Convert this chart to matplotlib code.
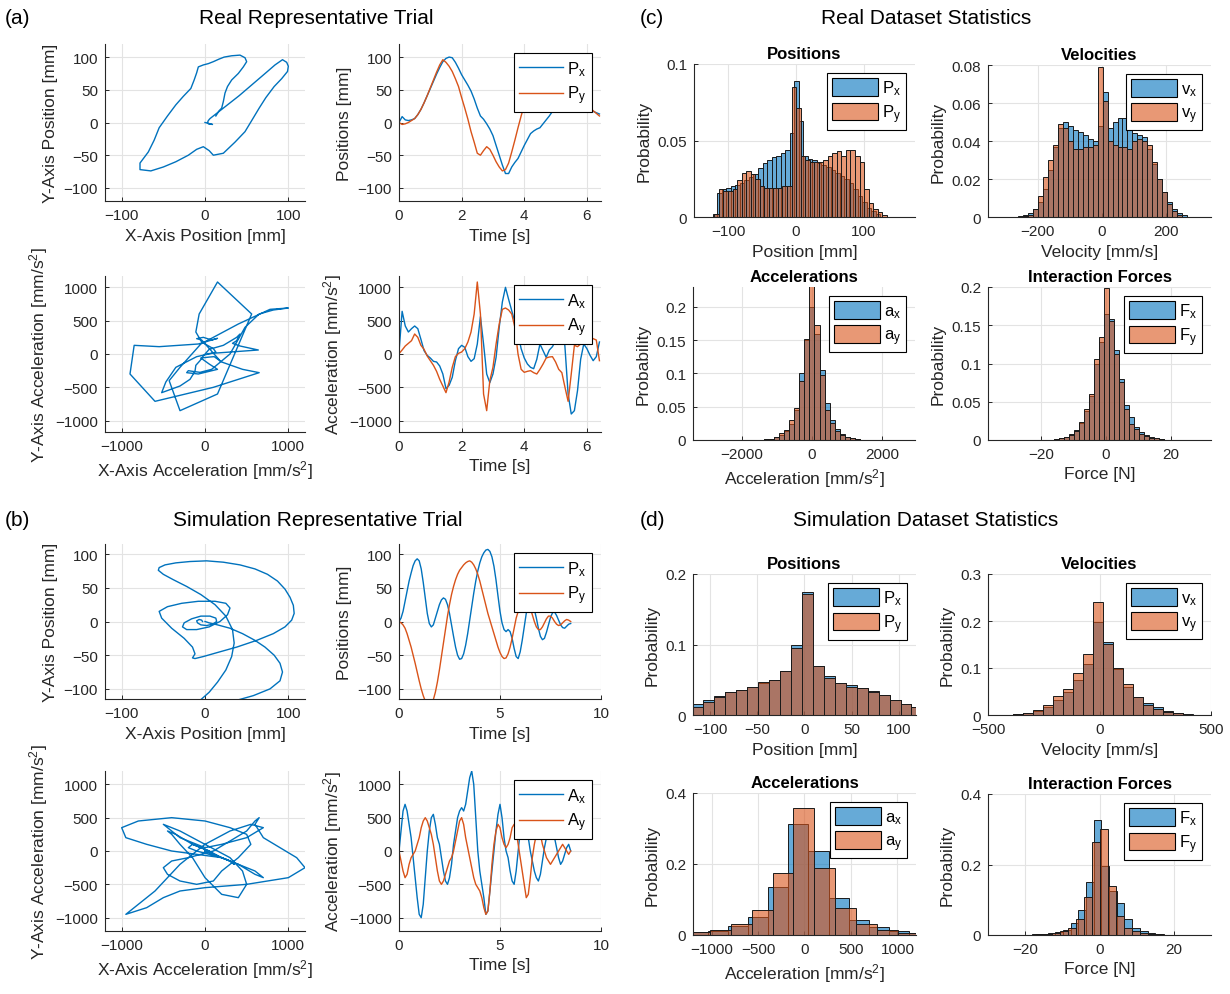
import numpy as np
import matplotlib
matplotlib.use('Agg')
import matplotlib.pyplot as plt
from matplotlib.patches import Patch
from matplotlib.lines import Line2D
from matplotlib.colors import to_rgba
from matplotlib.ticker import FormatStrFormatter

plt.rcParams['font.family'] = ['Liberation Sans', 'DejaVu Sans']
plt.rcParams['mathtext.fontset'] = 'custom'
plt.rcParams['mathtext.rm'] = 'Liberation Sans'
plt.rcParams['mathtext.it'] = 'Liberation Sans:italic'
plt.rcParams['mathtext.bf'] = 'Liberation Sans:bold'

BLUE = '#0072BD'
ORANGE = '#D95319'
TXT = '#262626'

# ---------------- Real representative trial (time step 0.1 s) ----------------
real_dt = 0.1
real_px = [0, 9, 4, 3, 4, 6, 12, 20, 30, 41, 52, 63, 74, 84, 93, 98, 100, 99, 92, 83,
           73, 65, 57, 48, 36, 22, 10, 5, -2, -10, -20, -35, -50, -65, -78, -78, -68, -61, -55, -45,
           -35, -26, -17, -13, -10, -8, -2, 4, 10, 17, 23, 32, 42, 48, 50, 46, 40, 32, 27, 24,
           22, 20, 17, 15, 13]
real_py = [0, -3, -2, 0, 3, 6, 12, 20, 30, 41, 53, 65, 77, 88, 96, 92, 86, 78, 67, 55,
           38, 22, 5, -14, -30, -47, -50, -43, -37, -41, -50, -60, -68, -74, -72, -62, -45, -27, -8, 10,
           27, 40, 52, 65, 76, 85, 88, 90, 93, 97, 100, 102, 103, 99, 93, 85, 75, 65, 55, 45,
           32, 22, 18, 14, 10]
real_ax = [30, 640, 420, 330, 380, 420, 380, 220, 50, -20, -60, -110, -120, -180, -300, -520, -470, -350, -100, 80,
           130, 100, -40, -110, -70, 150, 560, 150, -300, -430, -300, -50, 400, 780, 1000, 820, 650, 480, 300, 80,
           -60, -150, -200, -220, -80, 150, 50, -50, 60, 110, 200, 450, 650, 100, -600, -900, -850, -550, -80, 150,
           80, -20, -100, -40, 180]
real_ay = [5, 60, 120, 160, 200, 300, 250, 130, 70, -30, -100, -170, -260, -380, -480, -580, -420, -200, -40, 10,
           30, 80, 180, 330, 600, 1080, 600, -600, -850, -400, -200, 150, 450, 670, 690, 660, 600, 400, 0, -230,
           -275, -260, -250, -280, -300, -230, -150, -60, -45, -40, -120, -230, -280, -500, -710, -300, 130, 110, 150, 235,
           210, 250, 230, 210, -100]

# ---------------- Simulation representative trial (time step 0.1 s) ----------------
sim_dt = 0.1
sim_px = [0, 5, 15, 30, 45, 60, 72, 83, 90, 93, 90, 78, 58, 35, 12, -3, -8, -5, 5, 15,
          25, 32, 35, 33, 25, 12, -5, -22, -38, -50, -56, -55, -48, -35, -18, 2, 22, 42, 60, 75,
          87, 96, 102, 106, 107, 104, 96, 82, 62, 38, 15, -2, -12, -15, -12, -15, -25, -40, -52, -55,
          -45, -28, -8, 12, 25, 30, 27, 18, 5, -10, -22, -27, -25, -16, -5, 6, 13, 14, 9, 2,
          -5, -9, -10, -7, -4, -3]
sim_py = [0, -2, -5, -10, -18, -28, -38, -50, -62, -75, -88, -100, -110, -118, -122, -124, -122, -116, -105, -90,
          -72, -52, -32, -12, 8, 25, 40, 52, 62, 70, 76, 80, 84, 87, 89, 90, 88, 84, 78, 70,
          60, 48, 36, 24, 12, 2, -8, -18, -28, -38, -46, -52, -55, -54, -48, -38, -25, -10, 5, 15,
          22, 27, 30, 30, 27, 20, 10, 0, -8, -12, -12, -8, -2, 4, 8, 8, 5, 0, -4, -6,
          -5, -2, 1, 3, 2, 0]
sim_ax = [0, 300, 600, 700, 600, 400, 200, -100, -400, -700, -950, -1000, -800, -400, 0, 300, 500, 550, 400, 200,
          100, -100, -300, -450, -500, -400, -200, 100, 300, 500, 600, 650, 600, 700, 900, 1100, 1200, 1000, 500, 0,
          -300, -500, -700, -950, -900, -600, -300, 0, 300, 550, 700, 500, 200, 0, -100, -300, -450, -500, -300, 0,
          300, 450, 500, 400, 200, 0, -150, -300, -400, -450, -350, -150, 50, 200, 300, 350, 300, 200, 50, -100,
          -200, -150, -50, 50, 100, 0]
sim_ay = [0, -150, -300, -400, -350, -200, -100, -50, 0, 100, 200, 350, 450, 500, 450, 350, 250, 100, -100, -300,
          -450, -500, -450, -350, -250, -150, -100, 0, 150, 300, 450, 500, 400, 200, 50, -100, -250, -400, -500, -550,
          -600, -700, -850, -950, -900, -600, -200, 100, 300, 400, 350, 200, 100, 50, 100, 200, 350, 400, 300, 100,
          -100, -300, -500, -700, -650, -400, -100, 100, 250, 300, 250, 100, 0, -100, -150, -200, -150, -100, -50, 0,
          50, 100, 50, 0, -50, 0]

# ---------------- Histograms: (bin start, bin width, heights) ----------------
rp_x_start, rp_x_w = -122.6, 6.67
rp_x = [0.002, 0.016, 0.018, 0.019, 0.020, 0.021, 0.022, 0.024, 0.026, 0.028, 0.032, 0.035, 0.037, 0.039, 0.040,
        0.042, 0.044, 0.055, 0.089, 0.063, 0.040, 0.038, 0.037, 0.035, 0.034, 0.033, 0.031, 0.029, 0.027, 0.025,
        0.022, 0.018, 0.014, 0.010, 0.006, 0.004, 0.002]
rp_y_start, rp_y_w = -120.0, 6.67
rp_y = [0.002, 0.018, 0.017, 0.017, 0.018, 0.024, 0.029, 0.030, 0.028, 0.025, 0.020, 0.019, 0.019, 0.019, 0.019,
        0.020, 0.020, 0.085, 0.071, 0.040, 0.037, 0.036, 0.036, 0.036, 0.037, 0.040, 0.042, 0.043, 0.040, 0.044,
        0.044, 0.040, 0.036, 0.018, 0.009, 0.005, 0.003, 0.001]

rv_start, rv_w = -261.4, 15.5
rv_x = [0.0005, 0.001, 0.002, 0.004, 0.008, 0.015, 0.025, 0.037, 0.047, 0.050, 0.048, 0.046, 0.045, 0.043, 0.041,
        0.040, 0.048, 0.066, 0.047, 0.050, 0.052, 0.052, 0.048, 0.044, 0.043, 0.042, 0.036, 0.028, 0.020, 0.013,
        0.008, 0.004, 0.002, 0.001]
rv_y = [0.0, 0.0005, 0.001, 0.004, 0.011, 0.021, 0.030, 0.038, 0.049, 0.047, 0.040, 0.036, 0.036, 0.037, 0.037,
        0.038, 0.079, 0.061, 0.040, 0.038, 0.037, 0.037, 0.036, 0.040, 0.041, 0.040, 0.038, 0.029, 0.020, 0.013,
        0.007, 0.003, 0.001]

ra_start, ra_w = -1375.0, 145.0
ra_x = [0.001, 0.002, 0.004, 0.008, 0.013, 0.024, 0.045, 0.100, 0.150, 0.200, 0.160, 0.105, 0.055, 0.030, 0.016,
        0.009, 0.005, 0.003, 0.001]
ra_y = [0.001, 0.002, 0.005, 0.010, 0.015, 0.030, 0.048, 0.088, 0.152, 0.232, 0.173, 0.098, 0.045, 0.025, 0.014,
        0.008, 0.005, 0.003, 0.001]

rf_start, rf_w = -16.22, 1.55
rf_x = [0.001, 0.002, 0.004, 0.008, 0.013, 0.022, 0.038, 0.058, 0.100, 0.128, 0.165, 0.158, 0.118, 0.080, 0.046,
        0.030, 0.017, 0.011, 0.006, 0.004, 0.002, 0.001]
rf_y = [0.001, 0.002, 0.004, 0.007, 0.012, 0.023, 0.040, 0.060, 0.106, 0.135, 0.199, 0.156, 0.113, 0.076, 0.040,
        0.021, 0.014, 0.008, 0.005, 0.003, 0.002, 0.001]

sp_start, sp_w = -118.8, 11.6
sp_x = [0.015, 0.021, 0.027, 0.033, 0.035, 0.040, 0.046, 0.050, 0.063, 0.099, 0.174, 0.070, 0.055, 0.046, 0.042,
        0.039, 0.034, 0.029, 0.021, 0.016, 0.011]
sp_y = [0.012, 0.019, 0.025, 0.032, 0.035, 0.040, 0.047, 0.050, 0.063, 0.095, 0.172, 0.070, 0.053, 0.046, 0.040,
        0.038, 0.033, 0.028, 0.021, 0.016, 0.011]

sv_start, sv_w = -431.2, 44.8
sv_x = [0.001, 0.002, 0.005, 0.008, 0.018, 0.032, 0.050, 0.075, 0.108, 0.198, 0.155, 0.097, 0.060, 0.038, 0.025,
        0.016, 0.009, 0.004, 0.002]
sv_y = [0.001, 0.003, 0.005, 0.010, 0.022, 0.040, 0.055, 0.090, 0.130, 0.240, 0.152, 0.100, 0.065, 0.038, 0.022,
        0.012, 0.007, 0.004, 0.001]

sa_x_start, sa_x_w = -1469.0, 216.0
sa_x = [0.004, 0.008, 0.012, 0.025, 0.050, 0.135, 0.313, 0.237, 0.103, 0.043, 0.022, 0.012, 0.007]
sa_y_start, sa_y_w = -1244.0, 225.0
sa_y = [0.008, 0.015, 0.030, 0.070, 0.175, 0.357, 0.190, 0.075, 0.030, 0.015, 0.007]

sf_x_start, sf_x_w = -20.2, 2.07
sf_x = [0.001, 0.002, 0.003, 0.005, 0.008, 0.015, 0.035, 0.070, 0.150, 0.326, 0.197, 0.125, 0.090, 0.045, 0.020,
        0.010, 0.006, 0.003, 0.001]
sf_y_start, sf_y_w = -19.3, 2.16
sf_y = [0.001, 0.002, 0.004, 0.007, 0.012, 0.020, 0.045, 0.108, 0.265, 0.300, 0.140, 0.055, 0.020, 0.012, 0.007,
        0.004, 0.002]

# ---------------- figure ----------------
W, H = 1230, 995
fig = plt.figure(figsize=(W / 100, H / 100), dpi=100)


def add_ax(l, t, r, b):
    return fig.add_axes([l / W, 1 - b / H, (r - l) / W, (b - t) / H])


def style(ax):
    for s in ['top', 'right']:
        ax.spines[s].set_visible(False)
    for s in ['left', 'bottom']:
        ax.spines[s].set_color('#262626')
        ax.spines[s].set_linewidth(0.8)
    ax.grid(True, color='#e3e3e3', linewidth=0.8)
    ax.set_axisbelow(True)
    ax.tick_params(direction='in', length=3, width=0.7, labelsize=11, colors=TXT, pad=5)


def line_legend(ax, labels):
    h = [Line2D([], [], color=BLUE, lw=1.0), Line2D([], [], color=ORANGE, lw=1.0)]
    lg = ax.legend(h, labels, loc='upper right', fontsize=12, frameon=True, fancybox=False,
                   edgecolor='black', framealpha=1, handlelength=2.6, handletextpad=0.25,
                   borderaxespad=0.55, borderpad=0.35, labelspacing=0.35)
    lg.get_frame().set_linewidth(0.8)


def hist_legend(ax, labels):
    h = [Patch(facecolor=to_rgba(BLUE, 0.6), edgecolor='black', lw=0.8),
         Patch(facecolor=to_rgba(ORANGE, 0.6), edgecolor='black', lw=0.8)]
    lg = ax.legend(h, labels, loc='upper right', fontsize=12, frameon=True, fancybox=False,
                   edgecolor='black', framealpha=1, handlelength=2.8, handleheight=1.25,
                   handletextpad=0.2, borderaxespad=0.55, borderpad=0.3, labelspacing=0.3)
    lg.get_frame().set_linewidth(0.8)


def draw_hist(ax, start, width, heights, color):
    edges = start + width * np.arange(len(heights))
    ax.bar(edges, heights, width=width, align='edge', facecolor=to_rgba(color, 0.6),
           edgecolor='#1a1a1a', linewidth=0.7)


def line_panel(ax, t, a, b, xlim, ylim, yticks, xticks, xlabel, ylabel, labels):
    style(ax)
    ax.plot(t, a, color=BLUE, lw=1.0)
    ax.plot(t, b, color=ORANGE, lw=1.0)
    ax.set_xlim(*xlim)
    ax.set_ylim(*ylim)
    ax.set_xticks(xticks)
    ax.set_yticks(yticks)
    ax.set_xlabel(xlabel, fontsize=12.5, color=TXT)
    ax.set_ylabel(ylabel, fontsize=12.5, color=TXT)
    line_legend(ax, labels)


def xy_panel(ax, a, b, lim_x, lim_y, ticks, xlabel, ylabel):
    style(ax)
    ax.plot(a, b, color=BLUE, lw=1.0)
    ax.set_xlim(*lim_x)
    ax.set_ylim(*lim_y)
    ax.set_xticks(ticks[0])
    ax.set_yticks(ticks[1])
    ax.set_xlabel(xlabel, fontsize=12.5, color=TXT)
    ax.set_ylabel(ylabel, fontsize=12.5, color=TXT)


def hist_panel(ax, title, bx, by, xlim, ylim, xticks, yticks, xlabel, labels):
    style(ax)
    draw_hist(ax, *bx, BLUE)
    draw_hist(ax, *by, ORANGE)
    ax.set_xlim(*xlim)
    ax.set_ylim(*ylim)
    ax.set_xticks(xticks)
    ax.set_yticks(yticks)
    ax.yaxis.set_major_formatter(FormatStrFormatter('%g'))
    ax.set_title(title, fontsize=12, fontweight='bold', color='black', pad=4)
    ax.set_xlabel(xlabel, fontsize=12.5, color=TXT)
    ax.set_ylabel('Probability', fontsize=12.5, color=TXT)
    hist_legend(ax, labels)


P_LAB = [r'P$_{\rm x}$', r'P$_{\rm y}$']
A_LAB = [r'A$_{\rm x}$', r'A$_{\rm y}$']
ACC_UNIT = r'[mm/s$^{2}$]'

# ----- (a) real trial -----
t_real = real_dt * np.arange(len(real_px))
ax = add_ax(105, 45, 305, 202)
xy_panel(ax, real_px, real_py, (-120, 120), (-120, 120), ([-100, 0, 100], [-100, -50, 0, 50, 100]),
         'X-Axis Position [mm]', 'Y-Axis Position [mm]')
ax = add_ax(399, 45, 601, 202)
line_panel(ax, t_real, real_px, real_py, (0, 6.45), (-120, 120), [-100, -50, 0, 50, 100], [0, 2, 4, 6],
           'Time [s]', 'Positions [mm]', P_LAB)
ax = add_ax(105, 277, 305, 433)
xy_panel(ax, real_ax, real_ay, (-1200, 1200), (-1170, 1170), ([-1000, 0, 1000], [-1000, -500, 0, 500, 1000]),
         'X-Axis Acceleration ' + ACC_UNIT, 'Y-Axis Acceleration ' + ACC_UNIT)
ax = add_ax(399, 277, 601, 433)
line_panel(ax, t_real, real_ax, real_ay, (0, 6.45), (-1170, 1170), [-1000, -500, 0, 500, 1000], [0, 2, 4, 6],
           'Time [s]', 'Acceleration ' + ACC_UNIT, A_LAB)

# ----- (b) simulation trial -----
t_sim = sim_dt * np.arange(len(sim_px))
ax = add_ax(105, 545, 305, 700)
xy_panel(ax, sim_px, sim_py, (-120, 120), (-115, 115), ([-100, 0, 100], [-100, -50, 0, 50, 100]),
         'X-Axis Position [mm]', 'Y-Axis Position [mm]')
ax = add_ax(399, 545, 601, 700)
line_panel(ax, t_sim, sim_px, sim_py, (0, 10), (-115, 115), [-100, -50, 0, 50, 100], [0, 5, 10],
           'Time [s]', 'Positions [mm]', P_LAB)
ax = add_ax(105, 772, 305, 932)
xy_panel(ax, sim_ax, sim_ay, (-1200, 1200), (-1200, 1200), ([-1000, 0, 1000], [-1000, -500, 0, 500, 1000]),
         'X-Axis Acceleration ' + ACC_UNIT, 'Y-Axis Acceleration ' + ACC_UNIT)
ax = add_ax(399, 772, 601, 932)
line_panel(ax, t_sim, sim_ax, sim_ay, (0, 10), (-1200, 1200), [-1000, -500, 0, 500, 1000], [0, 5, 10],
           'Time [s]', 'Acceleration ' + ACC_UNIT, A_LAB)

# ----- (c) real statistics -----
ax = add_ax(694, 65, 915, 218)
hist_panel(ax, 'Positions', (rp_x_start, rp_x_w, rp_x), (rp_y_start, rp_y_w, rp_y), (-150, 175), (0, 0.1),
           [-100, 0, 100], [0, 0.05, 0.1], 'Position [mm]', P_LAB)
ax = add_ax(988, 66, 1211, 218)
hist_panel(ax, 'Velocities', (rv_start, rv_w, rv_x), (rv_start, rv_w, rv_y), (-355, 340), (0, 0.08),
           [-200, 0, 200], [0, 0.02, 0.04, 0.06, 0.08], 'Velocity [mm/s]', [r'v$_{\rm x}$', r'v$_{\rm y}$'])
ax = add_ax(693, 288, 915, 441)
hist_panel(ax, 'Accelerations', (ra_start, ra_w, ra_x), (ra_start, ra_w, ra_y), (-3400, 2950), (0, 0.23),
           [-2000, 0, 2000], [0, 0.05, 0.1, 0.15, 0.2], 'Acceleration ' + ACC_UNIT,
           [r'a$_{\rm x}$', r'a$_{\rm y}$'])
ax = add_ax(988, 288, 1211, 441)
hist_panel(ax, 'Interaction Forces', (rf_start, rf_w, rf_x), (rf_start, rf_w, rf_y), (-36.5, 32.5), (0, 0.2),
           [-20, 0, 20], [0, 0.05, 0.1, 0.15, 0.2], 'Force [N]', [r'F$_{\rm x}$', r'F$_{\rm y}$'])

# ----- (d) simulation statistics -----
ax = add_ax(693, 575, 916, 716)
hist_panel(ax, 'Positions', (sp_start, sp_w, sp_x), (sp_start, sp_w, sp_y), (-118, 118), (0, 0.2),
           [-100, -50, 0, 50, 100], [0, 0.1, 0.2], 'Position [mm]', P_LAB)
ax = add_ax(988, 575, 1211, 716)
hist_panel(ax, 'Velocities', (sv_start, sv_w, sv_x), (sv_start, sv_w, sv_y), (-500, 500), (0, 0.3),
           [-500, 0, 500], [0, 0.1, 0.2, 0.3], 'Velocity [mm/s]', [r'v$_{\rm x}$', r'v$_{\rm y}$'])
ax = add_ax(693, 794, 916, 936)
hist_panel(ax, 'Accelerations', (sa_x_start, sa_x_w, sa_x), (sa_y_start, sa_y_w, sa_y), (-1200, 1200), (0, 0.4),
           [-1000, -500, 0, 500, 1000], [0, 0.2, 0.4], 'Acceleration ' + ACC_UNIT,
           [r'a$_{\rm x}$', r'a$_{\rm y}$'])
ax = add_ax(988, 795, 1211, 936)
hist_panel(ax, 'Interaction Forces', (sf_x_start, sf_x_w, sf_x), (sf_y_start, sf_y_w, sf_y), (-30, 30), (0, 0.4),
           [-20, 0, 20], [0, 0.2, 0.4], 'Force [N]', [r'F$_{\rm x}$', r'F$_{\rm y}$'])

# ----- section headings -----
def ftext(x, y, s, ha='left'):
    fig.text(x / W, 1 - y / H, s, ha=ha, va='center', fontsize=15, color='black')

ftext(5, 18, '(a)')
ftext(316, 18, 'Real Representative Trial', ha='center')
ftext(640, 18, '(c)')
ftext(926, 18, 'Real Dataset Statistics', ha='center')
ftext(5, 521, '(b)')
ftext(318, 521, 'Simulation Representative Trial', ha='center')
ftext(640, 521, '(d)')
ftext(926, 521, 'Simulation Dataset Statistics', ha='center')

fig.savefig('out.png', dpi=100)
